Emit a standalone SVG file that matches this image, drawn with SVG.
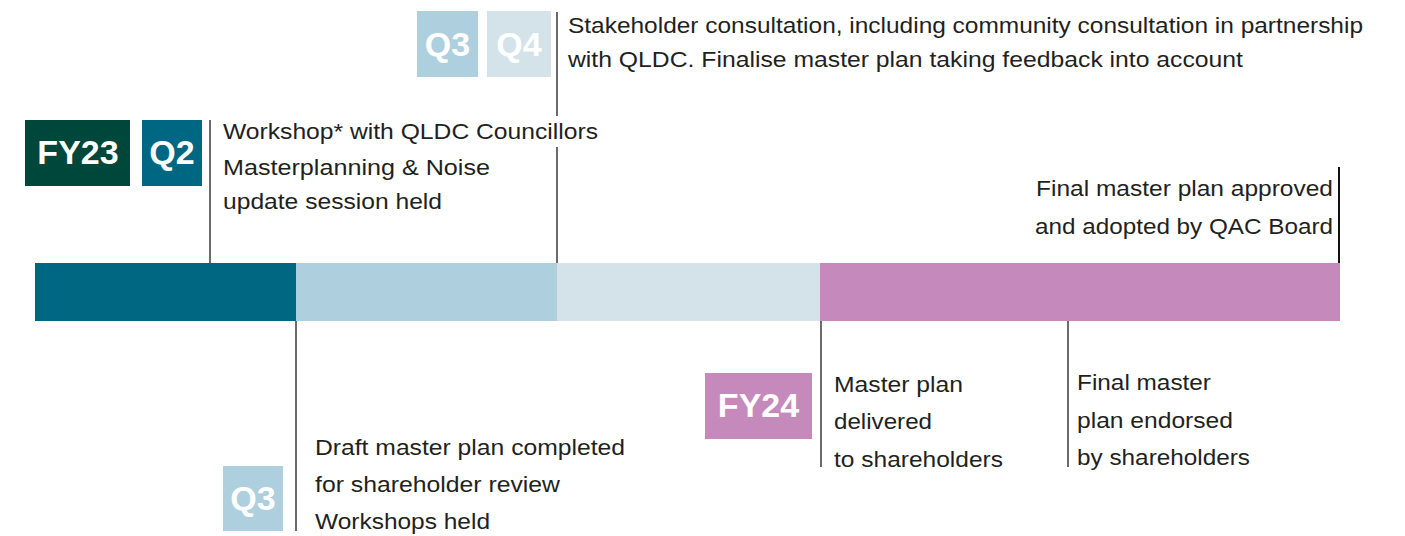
<svg xmlns="http://www.w3.org/2000/svg" width="1405" height="536" viewBox="0 0 1405 536">
<style>
.t{font-family:"Liberation Sans",Arial,sans-serif;font-size:22px;fill:#231f20}
.b{font-family:"Liberation Sans",Arial,sans-serif;font-size:34px;font-weight:bold;fill:#ffffff;text-anchor:middle}
.ln{stroke:#3a3a3a;stroke-width:1.5;fill:none}
</style>
<rect width="1405" height="536" fill="#ffffff"/>
<g id="timeline-bar">
<rect x="35" y="263" width="261" height="58" fill="#006782"/>
<rect x="296" y="263" width="261" height="58" fill="#aecfde"/>
<rect x="557" y="263" width="263" height="58" fill="#d4e3ea"/>
<rect x="820" y="263" width="520" height="58" fill="#c689bb"/>
</g>
<g id="connectors">
<line class="ln" x1="210" y1="120" x2="210" y2="263"/>
<line class="ln" x1="557" y1="12" x2="557" y2="116"/>
<line class="ln" x1="557" y1="147" x2="557" y2="263"/>
<line class="ln" x1="1339" y1="167" x2="1339" y2="263" style="stroke:#111;stroke-width:2"/>
<line class="ln" x1="296" y1="321" x2="296" y2="531"/>
<line class="ln" x1="821" y1="321" x2="821" y2="467"/>
<line class="ln" x1="1068" y1="321" x2="1068" y2="467"/>
</g>
<g id="badge-fy23">
<rect x="25" y="120" width="105" height="66" fill="#00473b"/>
<text class="b" x="78" y="164">FY23</text>
</g>
<g id="badge-q2">
<rect x="142" y="120" width="60" height="66" fill="#006782"/>
<text class="b" x="172" y="164">Q2</text>
</g>
<g id="badge-q3-top">
<rect x="417" y="11" width="61" height="66" fill="#aecfde"/>
<text class="b" x="447.5" y="56">Q3</text>
</g>
<g id="badge-q4-top">
<rect x="487" y="11" width="64" height="66" fill="#d4e3ea"/>
<text class="b" x="519" y="56">Q4</text>
</g>
<g id="badge-q3-bottom">
<rect x="223" y="466" width="60" height="65" fill="#aecfde"/>
<text class="b" x="253" y="510">Q3</text>
</g>
<g id="badge-fy24">
<rect x="705" y="373" width="107" height="66" fill="#c689bb"/>
<text class="b" x="758.5" y="417">FY24</text>
</g>
<g id="note-workshop">
<text class="t" x="223" y="139" textLength="375" lengthAdjust="spacingAndGlyphs">Workshop* with QLDC Councillors</text>
<text class="t" x="223" y="175" textLength="267" lengthAdjust="spacingAndGlyphs">Masterplanning &amp; Noise</text>
<text class="t" x="223" y="209" textLength="219" lengthAdjust="spacingAndGlyphs">update session held</text>
</g>
<g id="note-stakeholder">
<text class="t" x="568" y="33" textLength="795" lengthAdjust="spacingAndGlyphs">Stakeholder consultation, including community consultation in partnership</text>
<text class="t" x="568" y="67" textLength="675" lengthAdjust="spacingAndGlyphs">with QLDC. Finalise master plan taking feedback into account</text>
</g>
<g id="note-approved">
<text class="t" x="1036" y="196" textLength="297" lengthAdjust="spacingAndGlyphs">Final master plan approved</text>
<text class="t" x="1035" y="234" textLength="298" lengthAdjust="spacingAndGlyphs">and adopted by QAC Board</text>
</g>
<g id="note-draft">
<text class="t" x="315" y="455" textLength="310" lengthAdjust="spacingAndGlyphs">Draft master plan completed</text>
<text class="t" x="315" y="492" textLength="245" lengthAdjust="spacingAndGlyphs">for shareholder review</text>
<text class="t" x="315" y="529" textLength="175" lengthAdjust="spacingAndGlyphs">Workshops held</text>
</g>
<g id="note-delivered">
<text class="t" x="834" y="392" textLength="129" lengthAdjust="spacingAndGlyphs">Master plan</text>
<text class="t" x="834" y="429" textLength="98" lengthAdjust="spacingAndGlyphs">delivered</text>
<text class="t" x="834" y="467" textLength="169" lengthAdjust="spacingAndGlyphs">to shareholders</text>
</g>
<g id="note-endorsed">
<text class="t" x="1077" y="390" textLength="134" lengthAdjust="spacingAndGlyphs">Final master</text>
<text class="t" x="1077" y="428" textLength="156" lengthAdjust="spacingAndGlyphs">plan endorsed</text>
<text class="t" x="1077" y="465" textLength="173" lengthAdjust="spacingAndGlyphs">by shareholders</text>
</g>
</svg>
